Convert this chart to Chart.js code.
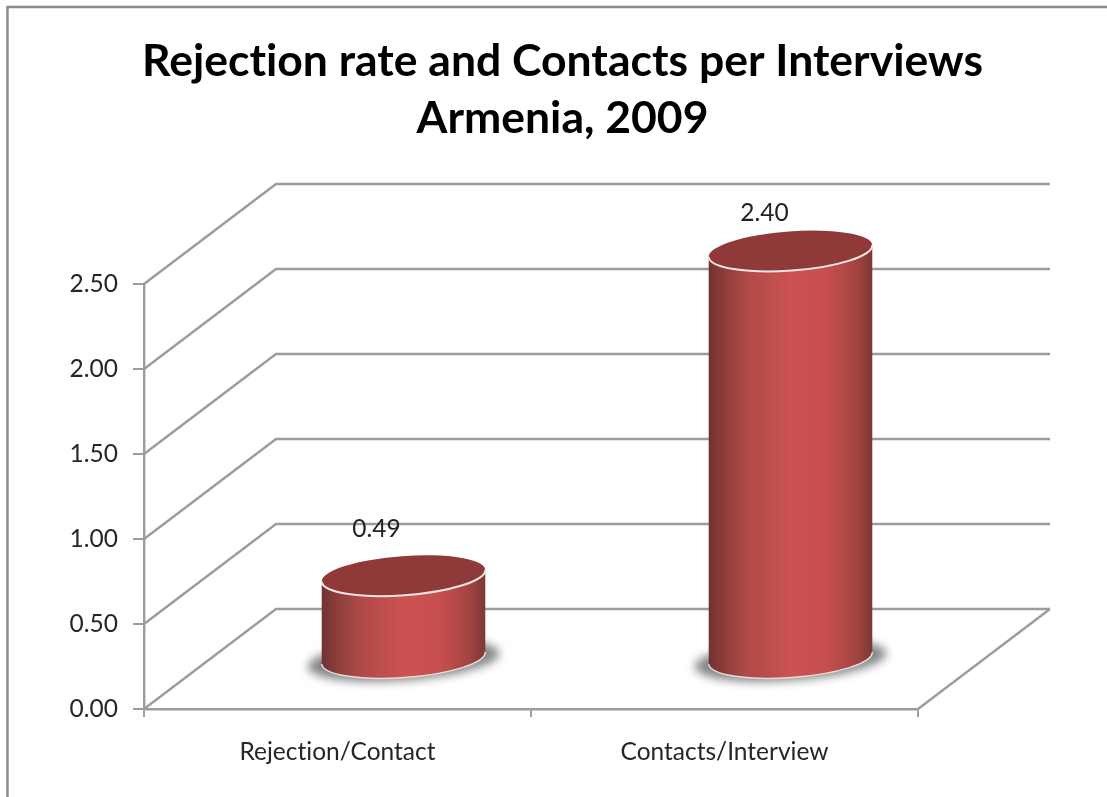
<!DOCTYPE html>
<html>
<head>
<meta charset="utf-8">
<style>html,body{margin:0;padding:0;background:#fff}#w{width:1107px;height:797px}canvas{display:block}</style>
<script src="https://cdn.jsdelivr.net/npm/chart.js@4"></script>
</head>
<body>
<div id="w"><canvas id="c" width="1107" height="797"></canvas></div>
<script>
const titleLines = ["Rejection rate and Contacts per Interviews", "Armenia, 2009"];
const categories = ["Rejection/Contact", "Contacts/Interview"];
const values = [0.49, 2.40];
const valueLabels = ["0.49", "2.40"];

const DEPTH_X = 132, DEPTH_Y = -100;
const LINE = "#9c9c9c";
const BAR_SHIFT_X = 66, BAR_SHIFT_Y = -50;
const RX = 82, RY = 19.6, ROT = -0.073;
const LABEL_NUDGE = [[-27, -47], [-26, -38]];

const scene = {
  id: "scene",
  beforeDraw(chart) {
    const c = chart.ctx;
    c.textRendering = "optimizeSpeed";
    c.save();
    c.strokeStyle = "#8a8a8a"; c.lineWidth = 2.4;
    c.beginPath(); c.moveTo(1107, 7); c.lineTo(7.5, 7); c.lineTo(7.5, 797); c.stroke();
    c.restore();
  },
  beforeDatasetsDraw(chart) {
    const c = chart.ctx, y = chart.scales.y, a = chart.chartArea;
    c.save();
    c.strokeStyle = LINE; c.lineWidth = 2.4;
    y.ticks.forEach(t => {
      const py = y.getPixelForValue(t.value);
      c.beginPath();
      c.moveTo(a.left, py);
      c.lineTo(a.left + DEPTH_X, py + DEPTH_Y);
      c.lineTo(a.right + DEPTH_X, py + DEPTH_Y);
      c.stroke();
    });
    const by = y.getPixelForValue(0);
    c.beginPath(); c.moveTo(a.right, by); c.lineTo(a.right + DEPTH_X, by + DEPTH_Y); c.stroke();
    c.restore();
  },
  afterDatasetsDraw(chart) {
    const c = chart.ctx;
    chart.getDatasetMeta(0).data.forEach((bar, i) => {
      const cx = bar.x + BAR_SHIFT_X, ty = bar.y + BAR_SHIFT_Y, by = bar.base + BAR_SHIFT_Y;
      c.save();
      c.filter = "blur(5px)";
      c.fillStyle = "#858585";
      c.beginPath(); c.ellipse(cx, by + 2, RX + 14, RY + 1, ROT, 0, Math.PI * 2); c.fill();
      c.restore();

      const g = c.createLinearGradient(cx - RX, 0, cx + RX, 0);
      g.addColorStop(0, "#703230");
      g.addColorStop(0.1, "#8e3d3b");
      g.addColorStop(0.22, "#ad4947");
      g.addColorStop(0.5, "#cb5351");
      g.addColorStop(0.72, "#c64f4d");
      g.addColorStop(0.9, "#a34442");
      g.addColorStop(1, "#7c3836");
      c.save();
      c.beginPath();
      c.ellipse(cx, by, RX, RY, ROT, Math.PI, 0, true);
      c.ellipse(cx, ty, RX, RY, ROT, 0, Math.PI, false);
      c.closePath();
      c.fillStyle = g; c.fill();
      c.beginPath(); c.ellipse(cx, by, RX, RY, ROT, Math.PI, 0, true);
      c.strokeStyle = "#e4dcdc"; c.lineWidth = 1.5; c.stroke();
      c.beginPath(); c.ellipse(cx, ty, RX, RY, ROT, 0, Math.PI * 2);
      c.fillStyle = "#8f3a38"; c.fill();
      c.beginPath(); c.ellipse(cx, ty, RX, RY, ROT, 0, Math.PI);
      c.strokeStyle = "#f3e6e4"; c.lineWidth = 2; c.stroke();
      c.restore();

      c.save();
      c.font = "24.5px Lato";
      c.fillStyle = "#222222";
      c.textAlign = "center"; c.textBaseline = "middle";
      c.fillText(valueLabels[i], cx + LABEL_NUDGE[i][0], ty + LABEL_NUDGE[i][1]);
      c.restore();
    });
  }
};

new Chart(document.getElementById("c"), {
  type: "bar",
  data: {
    labels: categories,
    datasets: [{ data: values, backgroundColor: "rgba(0,0,0,0)", borderWidth: 0, barPercentage: 0.424, categoryPercentage: 1 }]
  },
  options: {
    responsive: false,
    animation: false,
    devicePixelRatio: 1,
    layout: { padding: { left: 18, right: 0, top: 0, bottom: 0 } },
    plugins: {
      legend: { display: false },
      tooltip: { enabled: false },
      title: {
        display: true,
        text: titleLines,
        color: "#000000",
        font: { family: "Lato", size: 44.5, weight: "bold", lineHeight: 1.281 },
        padding: { top: 33, bottom: 137 }
      }
    },
    scales: {
      x: {
        offset: true,
        afterFit(s) { s.height = 88; },
        grid: { drawOnChartArea: false, drawTicks: true, tickLength: 8, color: LINE, lineWidth: 2 },
        border: { color: LINE, width: 2.4 },
        ticks: { color: "#262626", font: { family: "Lato", size: 24.5 }, padding: 20, maxRotation: 0 }
      },
      y: {
        min: 0, max: 2.5,
        afterFit(s) { s.width = 126; },
        grid: { drawOnChartArea: false, drawTicks: true, tickLength: 11, color: LINE, lineWidth: 2 },
        border: { color: LINE, width: 2.4 },
        ticks: { stepSize: 0.5, color: "#262626", font: { family: "Lato", size: 24.5 }, padding: 15,
                 callback: v => v.toFixed(2) }
      },
      depth: {
        position: "right", axis: "y", display: true,
        afterFit(s) { s.width = 189; },
        grid: { display: false }, border: { display: false }, ticks: { display: false }
      }
    }
  },
  plugins: [scene]
});
</script>
</body>
</html>
